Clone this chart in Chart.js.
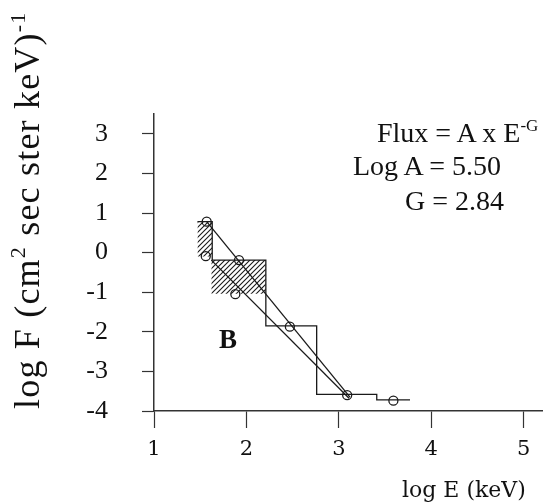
<!DOCTYPE html>
<html>
<head>
<meta charset="utf-8">
<script src="https://cdn.jsdelivr.net/npm/chart.js@4"></script>
<style>
body{margin:0;background:#fff}
#wrap{position:relative;width:548px;height:503px}
#graficos{position:absolute;left:0;top:0}
.t{position:absolute;font-family:'Liberation Serif',serif;color:#111;white-space:nowrap;line-height:1}
</style>
</head>
<body>
<div id="wrap">
<canvas id="graficos" width="548" height="503"></canvas>
<div class="t" style="left:9px;top:409px;font-size:36px;letter-spacing:1.2px;transform-origin:0 0;transform:rotate(-90deg)">log F (cm<span style="font-size:22px;position:relative;top:-14px">2</span> sec ster keV)<span style="font-size:22px;position:relative;top:-14px">-1</span></div>
<div class="t" style="left:377px;top:119px;font-size:28px">Flux = A x E<span style="font-size:17px;position:relative;top:-11px">-G</span></div>
<div class="t" style="left:353px;top:152px;font-size:28px">Log A = 5.50</div>
<div class="t" style="left:405px;top:187px;font-size:28px">G = 2.84</div>
<div class="t" style="left:219px;top:326px;font-size:27px;font-weight:bold">B</div>
<div class="t" style="left:402px;top:479px;font-size:22px;font-family:'DejaVu Serif',serif">log E (keV)</div>
</div>
<script>
// measured points (log E, log F)
const pointE = [1.57, 1.56, 1.92, 1.88, 2.47, 3.09, 3.59];
const pointF = [0.78, -0.09, -0.19, -1.05, -1.87, -3.60, -3.74];
// the two fitted power laws
const fitE1 = [1.57, 3.12];
const fitF1 = [0.78, -3.65];
const fitE2 = [1.62, 3.11];
const fitF2 = [-0.19, -3.68];
// histogram steps
const binEdges = [1.47, 1.63, 2.21, 2.76, 3.41, 3.77];
const binLevels = [0.78, -0.19, -1.85, -3.58, -3.72];
// hatched boxes: x range and y range
const hatchE1 = [1.47, 1.63];
const hatchF1 = [-0.10, 0.78];
const hatchE2 = [1.62, 2.21];
const hatchF2 = [-1.04, -0.19];

function pares(xs, ys){
    let out = [];
    for (let i = 0; i < xs.length; i++) out.push({x: xs[i], y: ys[i]});
    return out;
}

var canvas = document.getElementById('graficos');
var ctx = canvas.getContext('2d');

// diagonal hatching
let tile = document.createElement('canvas');
tile.width = tile.height = 5;
let tc = tile.getContext('2d');
tc.strokeStyle = '#1a1a1a';
tc.lineWidth = 1.1;
tc.beginPath();
tc.moveTo(0,5); tc.lineTo(5,0);
tc.moveTo(-1,1); tc.lineTo(1,-1);
tc.moveTo(4,6); tc.lineTo(6,4);
tc.stroke();
let rayado = ctx.createPattern(tile, 'repeat');

let stepPts = pares(binEdges, binLevels.concat([binLevels[binLevels.length-1]]));

let linea = {borderColor:'#1a1a1a', borderWidth:1.3, pointRadius:0, fill:false};

let myChart = new Chart(ctx, {
    type: 'line',
    data: {
        datasets: [
            {data: pares(hatchE1, [hatchF1[1], hatchF1[1]]), fill:{value: hatchF1[0]}, backgroundColor: rayado, borderWidth:0, pointRadius:0},
            {data: pares(hatchE2, [hatchF2[1], hatchF2[1]]), fill:{value: hatchF2[0]}, backgroundColor: rayado, borderWidth:0, pointRadius:0},
            Object.assign({data: pares(fitE1, fitF1)}, linea),
            Object.assign({data: pares(fitE2, fitF2)}, linea),
            Object.assign({data: stepPts, stepped: 'before'}, linea),
            {
                data: pares(pointE, pointF),
                showLine: false,
                pointRadius: 4.5,
                pointBorderWidth: 1.3,
                pointBorderColor: '#1a1a1a',
                pointBackgroundColor: 'rgba(0,0,0,0)'
            }
        ]
    },
    options: {
        responsive: false,
        animation: false,
        events: [],
        layout: {padding: {top:114, right:1, left:0, bottom:0}},
        plugins: {legend:{display:false}, tooltip:{enabled:false}},
        scales: {
            x: {
                type: 'linear', min: 1, max: 5.2,
                ticks: {stepSize:1, includeBounds:false, color:'#111', padding:9, maxRotation:0,
                        font:{family:"'DejaVu Serif', serif", size:21}},
                grid: {drawOnChartArea:false, tickLength:17, color:'#333', tickWidth:1.2},
                border: {color:'#333', width:1.5},
                afterFit: function(s){ s.height = 92; }
            },
            y: {
                min: -4, max: 3.5,
                ticks: {stepSize:1, includeBounds:false, color:'#111', padding:34,
                        font:{family:"'Liberation Serif', serif", size:26}},
                grid: {drawOnChartArea:false, tickLength:12, color:'#333', tickWidth:1.2},
                border: {color:'#333', width:1.5},
                afterFit: function(s){ s.width = 154; }
            }
        }
    }
});
</script>
</body>
</html>
